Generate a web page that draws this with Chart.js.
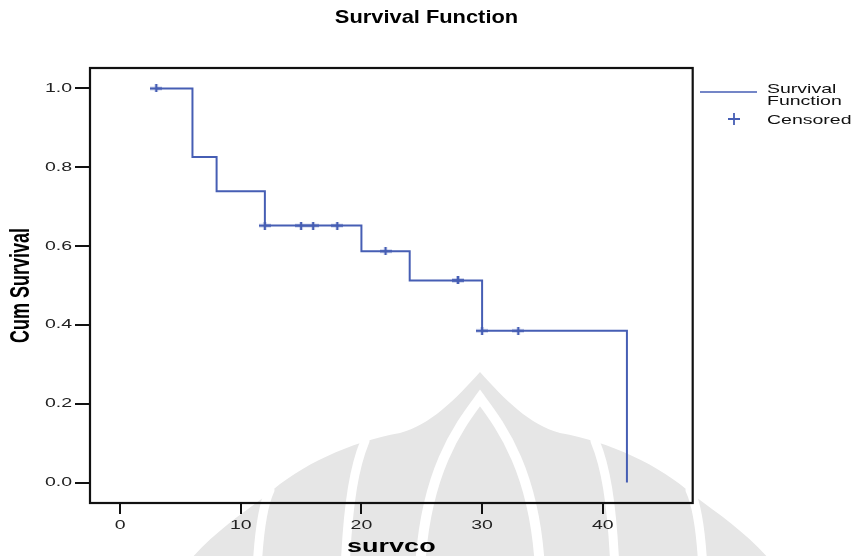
<!DOCTYPE html>
<html>
<head>
<meta charset="utf-8">
<script src="https://cdn.jsdelivr.net/npm/chart.js@4/dist/chart.umd.min.js"></script>
<style>
html,body{margin:0;padding:0;background:#fff;}
#wrap{width:853px;height:556px;position:relative;}
</style>
</head>
<body>
<div id="wrap"><canvas id="c" width="853" height="556"></canvas></div>
<script>
// ---- data ----
const stepTimes     = [3, 6, 8, 12, 20, 24, 30, 42];
const stepSurvival  = [1.0, 0.826, 0.739, 0.652, 0.587, 0.513, 0.385, 0.0];
const censorTimes    = [3, 12, 15, 16, 18, 22, 28, 28, 30, 33];
const censorSurvival = [1.0, 0.652, 0.652, 0.652, 0.652, 0.587, 0.513, 0.513, 0.385, 0.385];
const xTickValues = [0, 10, 20, 30, 40];
const yTickValues = [0.0, 0.2, 0.4, 0.6, 0.8, 1.0];
const legendLabels = [['Survival', 'Function'], ['Censored']];

const BLUE = 'rgb(70,94,180)';
const FONT = "'Liberation Sans', Arial, sans-serif";

const canvas = document.getElementById('c');
const ctx = canvas.getContext('2d');

// horizontal text stretch (the reference text is wide)
const protoFill = CanvasRenderingContext2D.prototype.fillText;
function stretchFor(font) {
  if (font.indexOf('19px') >= 0) return 1.15;
  return 1.5;
}
ctx.fillText = function (t, x, y, m) {
  const s = stretchFor(this.font);
  const T = this.getTransform();
  const px = T.a * x + T.c * y + T.e;
  this.save();
  this.setTransform(new DOMMatrix([s, 0, 0, 1, px * (1 - s), 0]).multiply(T));
  if (m === undefined) protoFill.call(this, t, x, y); else protoFill.call(this, t, x, y, m);
  this.restore();
};

function makeCross(w, h, lw) {
  const c = document.createElement('canvas');
  c.width = w; c.height = h;
  const g = c.getContext('2d');
  g.strokeStyle = BLUE; g.lineWidth = lw;
  g.beginPath();
  g.moveTo(0, h / 2); g.lineTo(w, h / 2);
  g.moveTo(w / 2, 0); g.lineTo(w / 2, h);
  g.stroke();
  return c;
}
const plotCross = makeCross(12, 8, 2.4);
const legendCross = makeCross(12, 12, 1.8);

// faint background emblem (watermark of the source document)
const watermarkPlugin = {
  id: 'watermark',
  beforeDraw(chart) {
    const g = chart.ctx;
    g.save();
    g.fillStyle = '#e6e6e6';
    g.beginPath();
    g.moveTo(480, 372);
    g.bezierCurveTo(505, 400, 530, 425, 560, 433);
    g.bezierCurveTo(610, 442, 660, 465, 693, 495);
    g.bezierCurveTo(730, 522, 770, 550, 790, 590);
    g.lineTo(170, 590);
    g.bezierCurveTo(190, 550, 230, 522, 267, 495);
    g.bezierCurveTo(300, 465, 350, 442, 400, 433);
    g.bezierCurveTo(430, 425, 455, 400, 480, 372);
    g.closePath();
    g.fill();
    g.strokeStyle = '#ffffff';
    g.lineCap = 'round';
    g.lineWidth = 9;
    const bands = [
      [595, 441, 605, 465, 612, 500, 615, 570],
      [365, 441, 355, 465, 348, 500, 345, 570],
      [690, 490, 697, 505, 701, 530, 703, 570],
      [270, 490, 263, 505, 259, 530, 257, 570]
    ];
    bands.forEach(b => {
      g.beginPath();
      g.moveTo(b[0], b[1]);
      g.bezierCurveTo(b[2], b[3], b[4], b[5], b[6], b[7]);
      g.stroke();
    });
    g.lineWidth = 10;
    g.beginPath();
    g.moveTo(420, 570);
    g.bezierCurveTo(425, 470, 460, 425, 480, 398);
    g.bezierCurveTo(500, 425, 535, 470, 540, 570);
    g.stroke();
    g.restore();
  }
};

const framePlugin = {
  id: 'frame',
  afterDraw(chart) {
    const a = chart.chartArea, g = chart.ctx;
    g.save();
    g.strokeStyle = '#111';
    g.lineWidth = 2.2;
    g.strokeRect(a.left, a.top, a.right - a.left, a.bottom - a.top);
    g.restore();
  }
};

const legendPlugin = {
  id: 'customLegend',
  afterDraw(chart) {
    const g = chart.ctx;
    g.save();
    g.strokeStyle = BLUE;
    g.lineWidth = 1.6;
    g.beginPath();
    g.moveTo(700, 92); g.lineTo(757, 92);
    g.stroke();
    g.drawImage(legendCross, 728, 113);
    g.fillStyle = '#111';
    g.font = "13px " + FONT;
    g.textAlign = 'left';
    g.textBaseline = 'alphabetic';
    g.fillText(legendLabels[0][0], 767, 92.5);
    g.fillText(legendLabels[0][1], 767, 104.5);
    g.fillText(legendLabels[1][0], 767, 124);
    g.restore();
  }
};

new Chart(ctx, {
  type: 'scatter',
  data: {
    datasets: [
      {
        type: 'line',
        label: 'Survival Function',
        data: stepTimes.map((t, i) => ({ x: t, y: stepSurvival[i] })),
        stepped: 'before',
        borderColor: BLUE,
        borderWidth: 2,
        pointRadius: 0,
        fill: false,
        order: 2
      },
      {
        type: 'scatter',
        label: 'Censored',
        data: censorTimes.map((t, i) => ({ x: t, y: censorSurvival[i] })),
        pointStyle: plotCross,
        pointRadius: 5,
        borderColor: BLUE,
        backgroundColor: BLUE,
        order: 1
      }
    ]
  },
  options: {
    responsive: false,
    animation: false,
    devicePixelRatio: 1,
    layout: { padding: { left: 0, right: 0, top: 0, bottom: 0 } },
    plugins: {
      legend: { display: false },
      tooltip: { enabled: false },
      title: {
        display: true,
        text: 'Survival Function',
        color: '#000',
        font: { family: FONT, size: 19, weight: 'bold', lineHeight: 1.2 },
        padding: { top: 6.5, bottom: 38.7 }
      }
    },
    scales: {
      x: {
        type: 'linear',
        min: -2.49,
        max: 47.45,
        afterBuildTicks: s => { s.ticks = xTickValues.map(v => ({ value: v })); },
        afterFit: s => { s.height = 53; },
        border: { display: false },
        grid: { drawOnChartArea: false, drawTicks: true, tickLength: 11, color: '#111', lineWidth: 2 },
        ticks: { padding: 4, color: '#222', font: { family: FONT, size: 13 }, maxRotation: 0, autoSkip: false },
        title: { display: true, text: 'survco', color: '#000', font: { family: FONT, size: 18, weight: 'bold', lineHeight: 1.0 }, padding: { top: 0, bottom: 0 } }
      },
      y: {
        type: 'linear',
        min: -0.052,
        max: 1.052,
        afterBuildTicks: s => { s.ticks = yTickValues.map(v => ({ value: v })); },
        afterFit: s => { s.width = 90; },
        border: { display: false },
        grid: { drawOnChartArea: false, drawTicks: true, tickLength: 15, color: '#111', lineWidth: 2 },
        ticks: { padding: 3, color: '#222', font: { family: FONT, size: 13 }, callback: v => Number(v).toFixed(1), autoSkip: false },
        title: { display: true, text: 'Cum Survival', color: '#000', font: { family: FONT, size: 18, weight: 'bold', lineHeight: 1.2 }, padding: { top: 11, bottom: 0 } }
      },
      yRight: {
        type: 'linear',
        position: 'right',
        min: 0, max: 1,
        afterFit: s => { s.width = 160.3; },
        border: { display: false },
        grid: { display: false },
        ticks: { display: false }
      }
    }
  },
  plugins: [watermarkPlugin, framePlugin, legendPlugin]
});
</script>
</body>
</html>
